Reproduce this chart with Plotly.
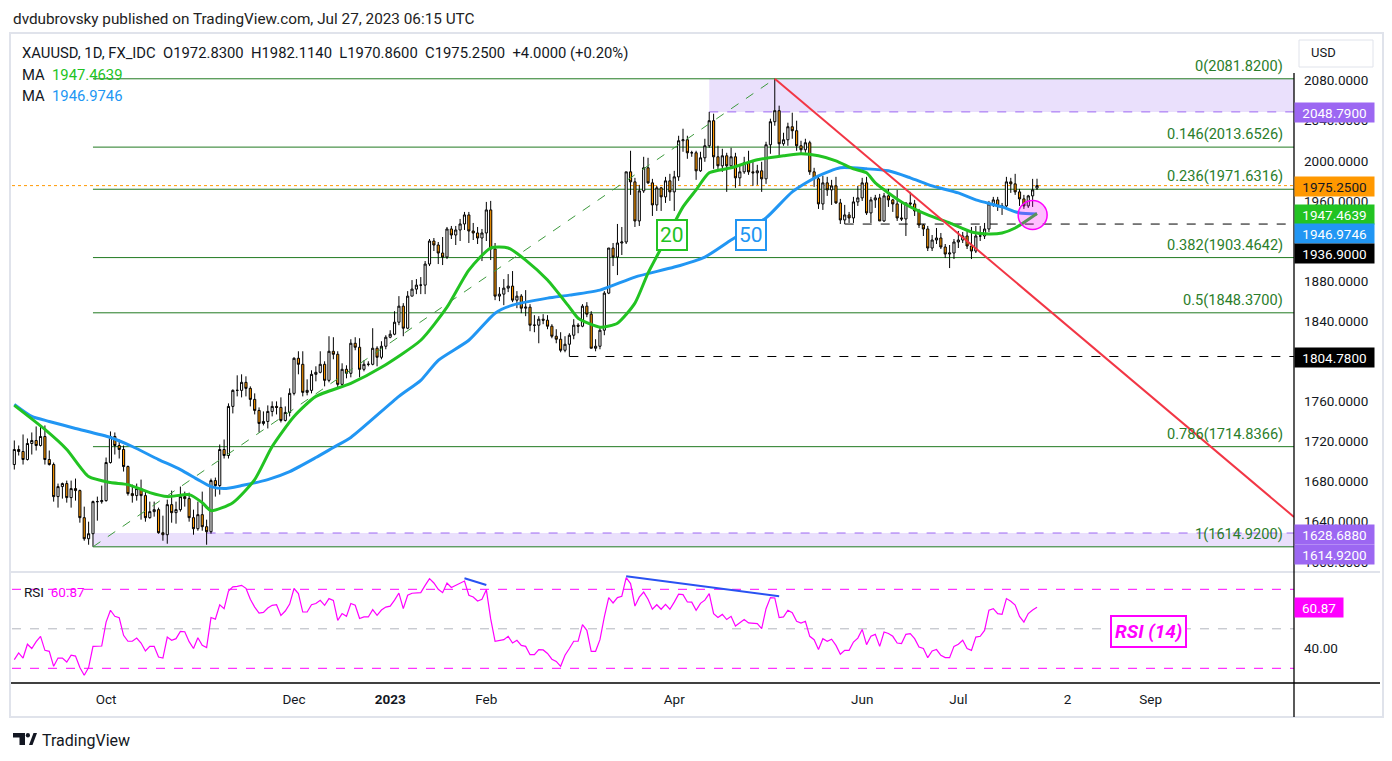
import plotly.graph_objects as go
import pandas as pd

W, H = 1392, 761
FONT = "Roboto, 'Noto Sans', sans-serif"

# ---------------- data ----------------
dates = pd.bdate_range("2022-09-02", "2023-07-27")

open_ = [
    1697, 1712, 1710, 1702, 1718, 1721, 1716, 1725, 1702, 1697, 1665, 1675, 1678, 1664, 1673, 1671, 1644, 1623, 1628, 1660, 1660,
    1661, 1699, 1725, 1716, 1712, 1695, 1668, 1666, 1673, 1666, 1644, 1650, 1652, 1629, 1627, 1657, 1649, 1652, 1665, 1663, 1644,
    1633, 1647, 1635, 1630, 1681, 1676, 1712, 1706, 1755, 1771, 1771, 1779, 1773, 1762, 1751, 1738, 1740, 1750, 1755, 1754, 1741, 1749,
    1768, 1803, 1797, 1769, 1771, 1787, 1789, 1797, 1781, 1810, 1807, 1777, 1792, 1788, 1818, 1814, 1792, 1797, 1797, 1813, 1804, 1815,
    1824, 1827, 1839, 1855, 1833, 1865, 1872, 1876, 1876, 1897, 1920, 1916, 1908, 1904, 1932, 1926, 1931, 1937, 1946, 1930, 1928, 1923,
    1928, 1951, 1912, 1865, 1867, 1873, 1875, 1861, 1865, 1853, 1854, 1836, 1836, 1842, 1841, 1835, 1825, 1822, 1811, 1817,
    1826, 1836, 1835, 1855, 1847, 1813, 1815, 1831, 1868, 1913, 1904, 1918, 1919, 1989, 1979, 1940, 1970, 1993, 1978, 1956, 1973, 1964, 1980,
    1969, 1984, 2020, 2021, 2008, 2008, 1990, 2003, 2015, 2040, 2004, 1995, 2005, 1995, 2004, 1983, 1989, 1998, 1989, 1988,
    1990, 1982, 2016, 2039, 2050, 2017, 2021, 2034, 2030, 2015, 2011, 2018, 1989, 1982, 1957, 1978, 1971, 1975, 1958, 1941, 1946, 1943, 1959,
    1963, 1978, 1948, 1961, 1963, 1940, 1965, 1961, 1957, 1943, 1942, 1958, 1957, 1950, 1936, 1932, 1913, 1921, 1923, 1914, 1907, 1908,
    1919, 1921, 1925, 1915, 1910, 1925, 1925, 1932, 1957, 1961, 1955, 1955, 1979, 1977, 1969, 1962, 1955, 1965, 1972.83,
]
high = [
    1721, 1716, 1727, 1723, 1729, 1735, 1735, 1736, 1711, 1699, 1678, 1679, 1681, 1681, 1683, 1672, 1655, 1640, 1661, 1665, 1676,
    1704, 1730, 1729, 1722, 1716, 1696, 1677, 1678, 1682, 1671, 1660, 1660, 1654, 1646, 1662, 1671, 1660, 1675, 1670, 1669, 1652,
    1660, 1670, 1642, 1683, 1684, 1717, 1722, 1758, 1772, 1786, 1787, 1785, 1775, 1768, 1754, 1750, 1756, 1760, 1760, 1764, 1755, 1773,
    1804, 1810, 1810, 1782, 1791, 1795, 1810, 1800, 1825, 1824, 1810, 1798, 1796, 1822, 1824, 1823, 1801, 1800, 1833, 1815, 1820, 1826,
    1831, 1850, 1865, 1858, 1870, 1881, 1882, 1884, 1900, 1922, 1923, 1919, 1924, 1934, 1935, 1935, 1942, 1949, 1949, 1938, 1934, 1932,
    1959, 1960, 1918, 1874, 1882, 1887, 1890, 1870, 1867, 1871, 1857, 1846, 1845, 1847, 1846, 1837, 1832, 1829, 1825, 1828,
    1842, 1838, 1857, 1859, 1850, 1822, 1835, 1870, 1913, 1918, 1937, 1934, 1989, 2010, 1983, 1976, 2004, 2003, 1982, 1975, 1974, 1984, 1987,
    1990, 2025, 2032, 2025, 2010, 2010, 2009, 2022, 2048.79, 2047, 2015, 2012, 2008, 2013, 2008, 1995, 2004, 2010, 2000, 1996,
    1999, 2019, 2042, 2081.82, 2055, 2028, 2038, 2048, 2040, 2020, 2022, 2020, 1993, 1985, 1985, 1984, 1981, 1984, 1962, 1956, 1949, 1964, 1975,
    1983, 1984, 1964, 1966, 1967, 1968, 1972, 1962, 1971, 1960, 1958, 1969, 1961, 1952, 1937, 1935, 1926, 1933, 1928, 1917, 1916, 1922,
    1930, 1929, 1930, 1934, 1935, 1935, 1938, 1960, 1964, 1964, 1958, 1984, 1983, 1987, 1972, 1966, 1966, 1982, 1982.11,
]
low = [
    1692, 1706, 1697, 1701, 1707, 1711, 1715, 1697, 1696, 1660, 1654, 1663, 1659, 1654, 1661, 1639, 1621, 1617, 1614.92, 1641, 1658,
    1660, 1698, 1707, 1703, 1690, 1666, 1659, 1661, 1642, 1640, 1643, 1645, 1628, 1621, 1618, 1639, 1638, 1650, 1655, 1640, 1627,
    1631, 1631, 1617, 1628, 1665, 1667, 1703, 1703, 1748, 1765, 1764, 1765, 1755, 1747, 1729, 1736, 1733, 1745, 1747, 1739, 1740, 1745,
    1766, 1787, 1765, 1766, 1768, 1780, 1788, 1775, 1779, 1802, 1773, 1775, 1783, 1784, 1811, 1784, 1790, 1795, 1796, 1795, 1802, 1812,
    1823, 1826, 1836, 1825, 1832, 1865, 1867, 1867, 1867, 1895, 1910, 1897, 1896, 1902, 1922, 1916, 1920, 1931, 1918, 1921, 1917, 1900,
    1920, 1901, 1861, 1860, 1856, 1869, 1859, 1853, 1848, 1845, 1830, 1829, 1818, 1837, 1832, 1823, 1818, 1809, 1809, 1804.78,
    1822, 1828, 1834, 1844, 1813, 1810, 1812, 1826, 1867, 1895, 1886, 1906, 1917, 1966, 1934, 1935, 1968, 1977, 1945, 1950, 1950, 1958, 1960,
    1950, 1980, 2009, 2002, 2004, 1981, 1989, 1999, 2013, 1992, 1991, 1989, 1969, 1992, 1973, 1975, 1987, 1986, 1975, 1976,
    1969, 1977, 2007, 2035, 2005, 2015, 2015, 2022, 2010, 2006, 2008, 1986, 1974, 1952, 1951, 1965, 1956, 1957, 1937, 1936.9, 1938, 1938, 1955,
    1960, 1946, 1938, 1953, 1940, 1939, 1954, 1949, 1940, 1940, 1925, 1953, 1945, 1933, 1925, 1910, 1910, 1917, 1912, 1903, 1893, 1902,
    1913, 1918, 1912, 1902, 1908, 1920, 1922, 1929, 1954, 1950, 1946, 1952, 1968, 1966, 1955, 1952, 1953, 1954, 1970.86,
]
close = [
    1712, 1710, 1702, 1718, 1721, 1716, 1725, 1702, 1697, 1665, 1675, 1678, 1664, 1673, 1671, 1644, 1623, 1628, 1660, 1660, 1661,
    1699, 1725, 1716, 1712, 1695, 1668, 1666, 1673, 1666, 1644, 1650, 1652, 1629, 1627, 1657, 1649, 1652, 1665, 1663, 1644, 1633,
    1647, 1635, 1630, 1681, 1676, 1712, 1706, 1755, 1771, 1771, 1779, 1773, 1762, 1751, 1738, 1740, 1750, 1755, 1754, 1741, 1749, 1768,
    1803, 1797, 1769, 1771, 1787, 1789, 1797, 1781, 1810, 1807, 1777, 1792, 1788, 1818, 1814, 1792, 1797, 1797, 1813, 1804, 1815, 1824,
    1827, 1839, 1855, 1833, 1865, 1872, 1876, 1876, 1897, 1920, 1916, 1908, 1904, 1932, 1926, 1931, 1937, 1946, 1930, 1928, 1923, 1928,
    1951, 1912, 1865, 1867, 1873, 1875, 1861, 1865, 1853, 1854, 1836, 1836, 1842, 1841, 1835, 1825, 1822, 1811, 1817, 1826,
    1836, 1835, 1855, 1847, 1813, 1815, 1831, 1868, 1913, 1904, 1918, 1919, 1989, 1979, 1940, 1970, 1993, 1978, 1956, 1973, 1964, 1980, 1969,
    1984, 2020, 2021, 2008, 2008, 1990, 2003, 2015, 2040, 2004, 1995, 2005, 1995, 2004, 1983, 1989, 1998, 1989, 1988, 1990,
    1982, 2016, 2039, 2050, 2017, 2021, 2034, 2030, 2015, 2011, 2018, 1989, 1982, 1957, 1978, 1971, 1975, 1958, 1941, 1946, 1943, 1959, 1963,
    1978, 1948, 1961, 1963, 1940, 1965, 1961, 1957, 1943, 1942, 1958, 1957, 1950, 1936, 1932, 1913, 1921, 1923, 1914, 1907, 1908, 1919,
    1921, 1925, 1915, 1910, 1925, 1925, 1932, 1957, 1961, 1955, 1955, 1979, 1977, 1969, 1962, 1955, 1965, 1971, 1975.25,
]
rsi = [
    34.4, 37.8, 35.2, 42.2, 40.0, 43.5, 46.2, 39.1, 38.6, 31.0,
    35.2, 35.2, 33.2, 36.6, 36.2, 30.4, 26.5, 30.4, 41.1, 41.2,
    41.3, 53.4, 59.4, 56.3, 55.6, 46.7, 43.7, 43.7, 45.3, 42.8,
    38.8, 41.1, 41.1, 35.7, 35.2, 45.8, 44.2, 45.0, 48.7, 48.5,
    43.5, 40.0, 45.5, 41.6, 40.5, 55.7, 54.9, 62.2, 60.2, 69.1,
    71.2, 71.5, 72.0, 70.5, 65.0, 61.0, 58.0, 58.3, 60.5, 61.9,
    62.2, 56.8, 59.0, 62.5, 70.4, 67.8, 58.5, 58.5, 62.2, 62.8,
    64.4, 61.9, 65.3, 64.4, 54.3, 57.7, 56.3, 62.8, 61.9, 55.2,
    56.0, 56.0, 59.7, 56.8, 59.5, 61.0, 61.5, 64.5, 68.1, 60.2,
    67.0, 68.0, 68.3, 68.3, 72.0, 75.4, 73.2, 70.0, 68.3, 73.2,
    70.9, 72.0, 73.0, 74.2, 67.0, 66.1, 64.1, 64.9, 69.8, 55.0,
    43.7, 44.0, 44.5, 46.2, 42.8, 44.2, 41.6, 41.1, 36.9, 36.9,
    39.5, 39.3, 37.5, 34.6, 33.5, 31.0, 36.6, 40.0, 43.7, 43.7,
    52.1, 49.2, 38.6, 38.6, 44.5, 56.0, 65.8, 63.1, 65.8, 66.5,
    75.9, 72.9, 61.5, 66.0, 68.6, 65.0, 59.9, 62.2, 59.9, 62.4,
    59.9, 63.5, 67.5, 67.3, 63.6, 63.5, 59.4, 62.9, 64.5, 67.8,
    57.7, 55.7, 57.3, 54.7, 56.3, 51.4, 52.9, 54.7, 53.0, 52.9,
    52.6, 50.1, 60.2, 65.8, 65.6, 55.7, 56.0, 59.4, 58.2, 53.8,
    52.9, 53.8, 46.2, 44.5, 39.5, 45.0, 43.7, 44.7, 41.6, 37.1,
    39.1, 39.1, 43.3, 45.3, 49.7, 42.0, 46.2, 47.2, 41.1, 48.4,
    47.6, 46.2, 42.8, 42.5, 47.2, 47.6, 45.0, 40.8, 40.0, 35.4,
    38.8, 39.5, 36.6, 35.4, 35.4, 41.1, 42.2, 44.2, 40.0, 39.1,
    45.8, 46.2, 49.2, 59.4, 60.2, 57.7, 57.3, 65.3, 63.9, 62.0,
    56.3, 53.4, 57.7, 59.5, 60.87,
]
assert len(dates) == len(open_) == len(high) == len(low) == len(close) == len(rsi), (
    len(dates), len(open_), len(high), len(low), len(close), len(rsi))

ma20_dates = ["2022-09-02", "2022-09-13", "2022-09-20", "2022-09-27", "2022-10-04", "2022-10-10", "2022-10-17",
              "2022-10-21", "2022-10-28", "2022-11-02", "2022-11-04", "2022-11-11", "2022-11-18", "2022-11-24",
              "2022-12-01", "2022-12-08", "2022-12-20", "2022-12-29", "2023-01-11", "2023-01-19", "2023-01-26",
              "2023-02-02", "2023-02-08", "2023-02-14", "2023-02-21", "2023-02-28", "2023-03-02", "2023-03-09",
              "2023-03-15", "2023-03-21", "2023-03-24", "2023-03-30", "2023-04-05", "2023-04-10", "2023-04-13",
              "2023-04-20", "2023-04-28", "2023-05-08", "2023-05-12", "2023-05-18", "2023-05-24", "2023-05-30",
              "2023-06-02", "2023-06-06", "2023-06-14", "2023-06-22", "2023-06-29", "2023-07-06", "2023-07-12",
              "2023-07-17", "2023-07-20", "2023-07-27"]
ma20_values = [1756, 1732, 1712, 1685, 1679, 1677, 1669, 1665, 1667, 1659, 1651, 1659, 1682, 1715,
               1745, 1765, 1778, 1794, 1821, 1854, 1891, 1913, 1913, 1901, 1881, 1854, 1843, 1834,
               1838, 1858, 1888, 1921, 1954, 1971, 1988, 1993, 2001, 2005, 2007, 2005, 2000, 1992,
               1988, 1978, 1959, 1946, 1938, 1929, 1927, 1928, 1933, 1947.4639]
ma50_dates = ["2022-09-02", "2022-09-08", "2022-09-14", "2022-09-22", "2022-10-04", "2022-10-11", "2022-10-19",
              "2022-10-26", "2022-11-01", "2022-11-04", "2022-11-09", "2022-11-15", "2022-11-23", "2022-11-30",
              "2022-12-08", "2022-12-14", "2022-12-20", "2023-01-04", "2023-01-11", "2023-01-17", "2023-01-26",
              "2023-02-03", "2023-02-09", "2023-02-21", "2023-02-28", "2023-03-09", "2023-03-21", "2023-04-03",
              "2023-04-12", "2023-04-20", "2023-05-02", "2023-05-10", "2023-05-18", "2023-05-25", "2023-06-02",
              "2023-06-09", "2023-06-16", "2023-06-23", "2023-07-03", "2023-07-07", "2023-07-17", "2023-07-21",
              "2023-07-27"]
ma50_values = [1757, 1745, 1740, 1733, 1724, 1715, 1702, 1692, 1682, 1675, 1673, 1676, 1682, 1690,
               1704, 1714, 1724, 1765, 1781, 1801, 1821, 1848, 1856, 1863, 1866, 1871, 1884, 1894,
               1904, 1921, 1943, 1969, 1985, 1993, 1992, 1990, 1983, 1975, 1968, 1961, 1954, 1948,
               1946.9746]

fib_ratios = ["0", "0.146", "0.236", "0.382", "0.5", "0.786", "1"]
fib_levels = [2081.82, 2013.6526, 1971.6316, 1903.4642, 1848.37, 1714.8366, 1614.92]
fib_start = "2022-09-28"
peak_date, peak_value = "2023-05-04", 2081.82
red_end_value = 1644.7
last_close = 1975.25
support_1936 = ("2023-05-26", 1936.90)
support_1804 = ("2023-02-28", 1804.78)
top_zone = ("2023-04-13", 2048.79, 2081.82)
bottom_zone = ("2022-09-28", 1614.92, 1628.688)
bottom_zone_line_start = "2022-11-03"
circle_point = ("2023-07-26", 1946.0)
rsi_div1 = (["2023-01-25", "2023-02-01"], [75.6, 72.2])
rsi_div2 = (["2023-03-17", "2023-05-05"], [76.6, 66.5])

tick_dates = ["2022-10-03", "2022-12-01", "2023-01-02", "2023-02-01", "2023-04-03", "2023-06-01",
              "2023-07-03", "2023-08-07", "2023-09-01"]
tick_text = ["Oct", "Dec", "<b>2023</b>", "Feb", "Apr", "Jun", "Jul", "2", "Sep"]
price_ticks = [1600, 1640, 1680, 1720, 1760, 1840, 1880, 1960, 2000, 2040, 2080]

# ---------------- geometry ----------------
X0, X1 = 12, 1294
future = pd.bdate_range(dates[-1], periods=59)
x_left = dates[0] - pd.Timedelta(hours=12.7)
x_right = future[-1] + pd.Timedelta(hours=19.2)


def px(x):
    return x / W


def py(y):
    return 1 - y / H


GREEN = "#22c322"
BLUE = "#2196f3"
FIBC = "#217a21"
PURPLE = "#9c67f2"
ORANGE = "#ff9800"
MAG = "#ff00ff"
RED = "#f23645"

fig = go.Figure()

fig.add_trace(go.Candlestick(
    x=dates, open=open_, high=high, low=low, close=close,
    increasing=dict(fillcolor="#ffffff", line=dict(color="#000000", width=1)),
    decreasing=dict(fillcolor=ORANGE, line=dict(color="#000000", width=1)),
    whiskerwidth=0, hoverinfo="skip", showlegend=False, xaxis="x", yaxis="y"))

fig.add_trace(go.Scatter(x=ma50_dates, y=ma50_values, mode="lines",
                         line=dict(color=BLUE, width=3, shape="spline", smoothing=0.6),
                         hoverinfo="skip", xaxis="x", yaxis="y"))
fig.add_trace(go.Scatter(x=ma20_dates, y=ma20_values, mode="lines",
                         line=dict(color=GREEN, width=3, shape="spline", smoothing=0.6),
                         hoverinfo="skip", xaxis="x", yaxis="y"))

# fib diagonal
fig.add_trace(go.Scatter(x=[fib_start, peak_date], y=[fib_levels[-1], peak_value], mode="lines",
                         line=dict(color="#3d9a3d", width=1, dash="dash"), hoverinfo="skip",
                         xaxis="x", yaxis="y"))
# red trendline
fig.add_trace(go.Scatter(x=[peak_date, x_right], y=[peak_value, red_end_value], mode="lines",
                         line=dict(color=RED, width=2), hoverinfo="skip", xaxis="x", yaxis="y"))
# highlight circle
fig.add_trace(go.Scatter(x=[circle_point[0]], y=[circle_point[1]], mode="markers",
                         marker=dict(size=29, color="rgba(255,0,255,0.25)", line=dict(color=MAG, width=1.5)),
                         hoverinfo="skip", xaxis="x", yaxis="y"))

# RSI
fig.add_trace(go.Scatter(x=dates, y=rsi, mode="lines", line=dict(color=MAG, width=1.2),
                         hoverinfo="skip", xaxis="x2", yaxis="y2"))
for d in (rsi_div1, rsi_div2):
    fig.add_trace(go.Scatter(x=d[0], y=d[1], mode="lines", line=dict(color="#2952f2", width=2),
                             hoverinfo="skip", xaxis="x2", yaxis="y2"))

shapes = []
# zones
shapes.append(dict(type="rect", xref="x", yref="y", x0=top_zone[0], x1=x_right, y0=top_zone[1], y1=top_zone[2],
                   fillcolor="rgba(150,100,240,0.2)", line=dict(width=0), layer="below"))
shapes.append(dict(type="rect", xref="x", yref="y", x0=bottom_zone[0], x1=x_right, y0=bottom_zone[1],
                   y1=bottom_zone[2], fillcolor="rgba(150,100,240,0.2)", line=dict(width=0), layer="below"))
shapes.append(dict(type="line", xref="x", yref="y", x0=top_zone[0], x1=x_right, y0=top_zone[1], y1=top_zone[1],
                   line=dict(color=PURPLE, width=1, dash="dash"), layer="below"))
shapes.append(dict(type="line", xref="x", yref="y", x0=bottom_zone_line_start, x1=x_right, y0=bottom_zone[2],
                   y1=bottom_zone[2], line=dict(color=PURPLE, width=1, dash="dash"), layer="below"))
# fib levels
for lv in fib_levels:
    shapes.append(dict(type="line", xref="x", yref="y", x0=fib_start, x1=x_right, y0=lv, y1=lv,
                       line=dict(color=FIBC, width=1), layer="below"))
# supports
for d, v in (support_1936, support_1804):
    shapes.append(dict(type="line", xref="x", yref="y", x0=d, x1=x_right, y0=v, y1=v,
                       line=dict(color="#000000", width=1, dash="dash"), layer="below"))
# last price dotted
shapes.append(dict(type="line", xref="x domain", yref="y", x0=0, x1=1, y0=last_close, y1=last_close,
                   line=dict(color=ORANGE, width=1, dash="dot"), layer="below"))
# RSI levels
for lv, col in ((70, MAG), (30, MAG), (50, "#b2b5be")):
    shapes.append(dict(type="line", xref="x2 domain", yref="y2", x0=0, x1=1, y0=lv, y1=lv,
                       line=dict(color=col, width=1, dash="dash"), layer="below"))
# frame & separators
shapes.append(dict(type="rect", xref="paper", yref="paper", x0=px(10), x1=px(1383), y0=py(717), y1=py(33),
                   line=dict(color="#e0e3eb", width=2), layer="below"))
shapes.append(dict(type="line", xref="paper", yref="paper", x0=px(11), x1=px(1380), y0=py(572), y1=py(572),
                   line=dict(color="#e0e3eb", width=2)))
shapes.append(dict(type="line", xref="paper", yref="paper", x0=px(11), x1=px(1380), y0=py(683), y1=py(683),
                   line=dict(color="#000000", width=1.3)))
shapes.append(dict(type="line", xref="paper", yref="paper", x0=px(X1), x1=px(X1), y0=py(717), y1=py(73),
                   line=dict(color="#000000", width=1.3)))
# USD box
shapes.append(dict(type="rect", xref="paper", yref="paper", x0=px(1299), x1=px(1373), y0=py(67), y1=py(40),
                   line=dict(color="#e0e3eb", width=1), fillcolor="white"))
# TradingView logo
shapes.append(dict(type="rect", xref="paper", yref="paper", x0=px(13), x1=px(25), y0=py(737.5), y1=py(733),
                   fillcolor="#131722", line=dict(width=0)))
shapes.append(dict(type="rect", xref="paper", yref="paper", x0=px(19.5), x1=px(25), y0=py(745), y1=py(733),
                   fillcolor="#131722", line=dict(width=0)))
shapes.append(dict(type="circle", xref="paper", yref="paper", x0=px(25.8), x1=px(30), y0=py(737.5), y1=py(733),
                   fillcolor="#131722", line=dict(width=0)))
shapes.append(dict(type="path", xref="paper", yref="paper",
                   path=f"M {px(29)} {py(745)} L {px(33.5)} {py(733)} L {px(37)} {py(733)} L {px(32.5)} {py(745)} Z",
                   fillcolor="#131722", line=dict(width=0)))

ann = []


def text(x, y, t, size=13, color="#131722", anchor="left", **kw):
    ann.append(dict(xref="paper", yref="paper", x=px(x), y=py(y), text=t, showarrow=False,
                    xanchor=anchor, yanchor="middle", font=dict(size=size, color=color, family=FONT), **kw))


sp = "\u00a0\u00a0"
text(11, 19, "dvdubrovsky published on TradingView.com, Jul 27, 2023 06:15 UTC", size=15.3, color="#222")
text(20, 53, "XAUUSD, 1D, FX_IDC" + sp + "O1972.8300" + sp + "H1982.1140" + sp + "L1970.8600" + sp
     + "C1975.2500" + sp + "+4.0000 (+0.20%)", size=14.8)
text(20, 75, "MA" + sp + f"<span style='color:{GREEN}'>1947.4639</span>", size=14.8)
text(20, 96, "MA" + sp + f"<span style='color:{BLUE}'>1946.9746</span>", size=14.8)
text(22, 592, "RSI" + sp + f"<span style='color:{MAG}'>60.87</span>", size=13.5)
text(1309, 53, "USD", size=13)
text(40, 740, "TradingView", size=16)

# fib labels
for r, lv in zip(fib_ratios, fib_levels):
    ann.append(dict(xref="paper", yref="y", x=px(1285), y=lv, text=f"{r}({lv:.4f})", showarrow=False,
                    xanchor="right", yanchor="bottom", yshift=2, font=dict(size=14.6, color="#2a7d2a", family=FONT)))


def plabel(y, t, bg, fg="white", w=75):
    ann.append(dict(xref="paper", yref="paper", x=px(1294), y=py(y), text=t, showarrow=False,
                    xanchor="left", yanchor="middle", bgcolor=bg, width=w, height=15, borderpad=2,
                    align="center", font=dict(size=13.5, color=fg, family=FONT)))


plabel(112.5, "2048.7900", PURPLE)
plabel(186.5, "1975.2500", ORANGE, fg="#131722")
plabel(214.5, "1947.4639", GREEN)
plabel(233.5, "1946.9746", BLUE)
plabel(253.5, "1936.9000", "#000000")
plabel(357, "1804.7800", "#000000")
plabel(534.5, "1628.6880", PURPLE)
plabel(554.5, "1614.9200", PURPLE)
plabel(607.5, "60.87", MAG, w=44)

# MA tags and RSI tag
for x, t, col in ((672, "20", GREEN), (751, "50", BLUE)):
    ann.append(dict(xref="paper", yref="paper", x=px(x), y=py(235), text=t, showarrow=False,
                    xanchor="center", yanchor="middle", bgcolor="white", bordercolor=col, borderwidth=2,
                    borderpad=2, font=dict(size=21, color=col, family=FONT)))
ann.append(dict(xref="paper", yref="paper", x=px(1148), y=py(631.5), text="<b><i>RSI (14)</i></b>",
                showarrow=False, xanchor="center", yanchor="middle", bgcolor="white", bordercolor=MAG,
                borderwidth=2, borderpad=3, font=dict(size=19, color=MAG, family=FONT)))

rb = [dict(bounds=["sat", "mon"])]
fig.update_layout(
    width=W, height=H, template="none", showlegend=False,
    margin=dict(l=0, r=0, t=0, b=0), paper_bgcolor="white", plot_bgcolor="white",
    font=dict(family=FONT, size=13, color="#131722"),
    xaxis=dict(domain=[px(X0), px(X1)], type="date", range=[x_left, x_right], rangebreaks=rb,
               showticklabels=False, showgrid=False, zeroline=False, showline=False, ticks="",
               anchor="y", rangeslider=dict(visible=False), automargin=False),
    yaxis=dict(domain=[py(572), py(34)], range=[1589.8, 2126.5], side="right", tickvals=price_ticks,
               ticktext=[f"{v:.4f}" for v in price_ticks], showgrid=False, zeroline=False, ticks="",
               ticklabelstandoff=9, anchor="x", automargin=False, tickfont=dict(size=13.5)),
    xaxis2=dict(domain=[px(X0), px(X1)], type="date", range=[x_left, x_right], rangebreaks=rb,
                tickvals=tick_dates, ticktext=tick_text, showgrid=False, zeroline=False, showline=False,
                ticks="", anchor="y2", automargin=False, ticklabelstandoff=6, tickfont=dict(size=13.5)),
    yaxis2=dict(domain=[py(683), py(572)], range=[22.56, 78.76], side="right", tickvals=[40],
                ticktext=["40.00"], showgrid=False, zeroline=False, ticks="", ticklabelstandoff=9,
                anchor="x2", automargin=False, tickfont=dict(size=13.5)),
    shapes=shapes, annotations=ann,
)

fig.write_html("out.html", config={"displayModeBar": False},
               post_script="document.body.style.margin='0px';document.body.style.overflow='hidden';")
